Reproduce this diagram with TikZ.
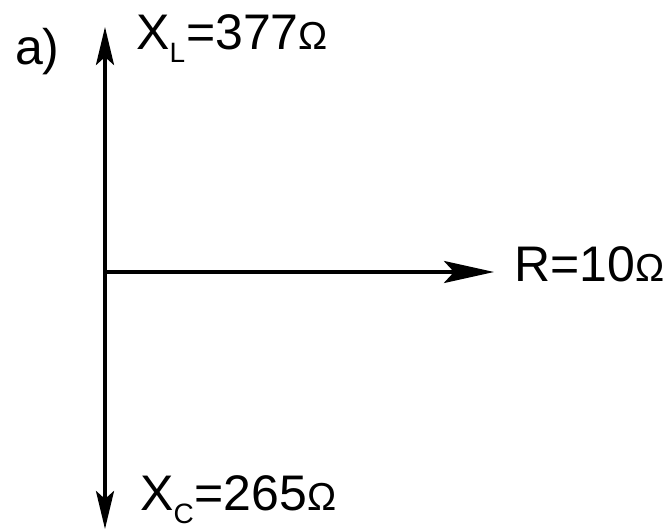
\documentclass[tikz,border=0pt]{standalone}
\usepackage{fontspec}
\setmainfont{Liberation Sans}
\usetikzlibrary{arrows.meta}

\newcommand\lowsub[1]{\raisebox{-13pt}{\fontsize{28}{28}\selectfont #1}}
\newcommand\ohmsign{{\fontsize{39}{40}\selectfont Ω}}

\begin{document}
\begin{tikzpicture}[x=1pt, y=-1pt,
  axis/.style={line width=3.8pt, -{Stealth[length=38pt, width=18pt, inset=8pt]}},
  raxis/.style={line width=3.8pt, -{Stealth[length=50pt, width=22pt, inset=10pt]}},
  lbl/.style={anchor=base west, inner sep=0pt, font=\fontsize{50}{60}\selectfont}]
  \useasboundingbox (0,0) rectangle (672,529);
  % axes
  \coordinate (O) at (105,272);
  \coordinate (top) at (105,27);
  \coordinate (bot) at (105,529);
  \coordinate (right) at (494,272);

  \draw[axis] (O) -- (top);
  \draw[axis] (O) -- (bot);
  \draw[raxis] (O) -- (right);

  % labels
  \node[lbl] (part) at (15,65) {a)};
  \node[lbl] (XL) at (136,50) {X\lowsub{L}\kern1pt=377\ohmsign};
  \node[lbl] (XC) at (140,510) {X\lowsub{C}\kern1pt=265\ohmsign};
  \node[lbl] (Rlbl) at (514,282) {R=10\ohmsign};
\end{tikzpicture}
\end{document}
